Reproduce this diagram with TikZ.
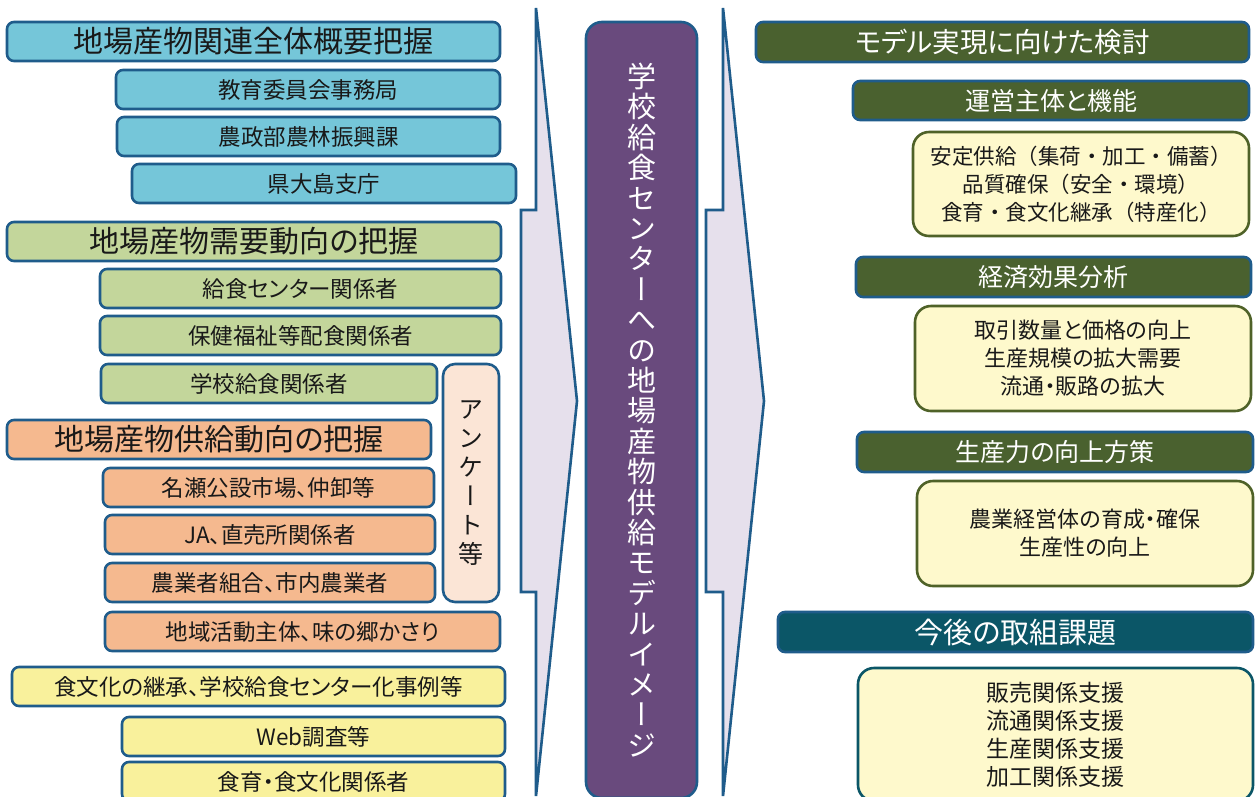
\documentclass[tikz,border=0pt]{standalone}
\usepackage{fontspec}
\setmainfont[RawFeature=+palt]{Noto Sans CJK JP}
\newfontfamily\vfont[RawFeature=+vert]{Noto Sans CJK JP}
\newfontfamily\fwfont{Noto Sans CJK JP}
\definecolor{bblue}{HTML}{1F5C8B}
\definecolor{fblue}{HTML}{75C6D9}
\definecolor{fgreen}{HTML}{C3D69B}
\definecolor{forange}{HTML}{F5B98F}
\definecolor{fyellow}{HTML}{F9F19C}
\definecolor{fpeach}{HTML}{FBE5D6}
\definecolor{flav}{HTML}{E6E0EC}
\definecolor{fpurp}{HTML}{694A7D}
\definecolor{dgreen}{HTML}{4A612F}
\definecolor{dgreenb}{HTML}{4F6228}
\definecolor{lyel}{HTML}{FEF9CC}
\definecolor{teal}{HTML}{0B5667}
\tikzset{
  box/.style={draw=bblue, line width=2.6pt, rounded corners=7pt, inner sep=0pt, text=black!90},
  hd/.style={box, font=\fontsize{30}{34}\selectfont},
  sub/.style={box, font=\fontsize{22.5}{26}\selectfont},
  rhd/.style={box, fill=dgreen, text=white, font=\fontsize{25}{30}\selectfont},
  ybox/.style={draw=dgreenb, line width=2.6pt, rounded corners=16pt, fill=lyel, inner sep=0pt, align=center, text=black!90, font=\fontsize{22}{28}\selectfont},
  arrowshape/.style={draw=bblue, line width=2.6pt, fill=flav, line join=miter},
}
\newcommand\bx[7]{\node[#6, minimum width={(#4-#2)*1pt}, minimum height={(#5-#3)*1pt}] (#1) at ({(#2+#4)/2},{(#3+#5)/2}) {#7};}
\begin{document}
\begin{tikzpicture}[x=1pt,y=-1pt]
\useasboundingbox (0,0) rectangle (1255,796);
\fill[white] (0,0) rectangle (1255,796);
% arrows
\draw[arrowshape] (536,8) -- (577,401) -- (536,796) -- (536,592) -- (521,592) -- (521,210) -- (536,210) -- cycle;
\draw[arrowshape] (723,8) -- (764,401) -- (723,796) -- (723,592) -- (706,592) -- (706,210) -- (723,210) -- cycle;
% left column
\bx{h1}{7}{22}{500}{61}{hd, fill=fblue}{地場産物関連全体概要把握}
\bx{a1}{116}{70}{500}{109}{sub, fill=fblue}{教育委員会事務局}
\bx{a2}{117}{117}{500}{156}{sub, fill=fblue}{農政部農林振興課}
\bx{a3}{132}{164}{516}{203}{sub, fill=fblue}{県大島支庁}
\bx{h2}{7}{222}{501}{261}{hd, fill=fgreen}{地場産物需要動向の把握}
\bx{b1}{100}{269}{501}{308}{sub, fill=fgreen}{給食センター関係者}
\bx{b2}{100}{316}{501}{355}{sub, fill=fgreen}{保健福祉等配食関係者}
\bx{b3}{101}{364}{437}{403}{sub, fill=fgreen}{学校給食関係者}
\bx{ank}{443}{364}{499}{602}{box, fill=fpeach, rounded corners=12pt, align=center, font={\vfont\fontsize{25}{29}\selectfont}}{ア\\ン\\ケ\\ー\\ト\\等}
\bx{h3}{7}{420}{431}{459}{hd, fill=forange}{地場産物供給動向の把握}
\bx{c1}{103}{468}{434}{507}{sub, fill=forange}{名瀬公設市場、仲卸等}
\bx{c2}{105}{515}{435}{554}{sub, fill=forange}{JA、直売所関係者}
\bx{c3}{105}{563}{435}{602}{sub, fill=forange}{農業者組合、市内農業者}
\bx{c4}{105}{612}{500}{651}{sub, fill=forange}{地域活動主体、味の郷かさり}
\bx{d0}{12}{667}{505}{706}{sub, fill=fyellow}{食文化の継承、学校給食センター化事例等}
\bx{d1}{122}{717}{505}{756}{sub, fill=fyellow}{Web調査等}
\bx{d2}{122}{762}{505}{801}{sub, fill=fyellow}{食育・食文化関係者}
% center
\bx{mid}{586}{22}{697}{798}{box, fill=fpurp, rounded corners=16pt, text=white, align=center, font={\vfont\fontsize{29}{30.4}\selectfont}}{学\\校\\給\\食\\セ\\ン\\タ\\ー\\へ\\の\\地\\場\\産\\物\\供\\給\\モ\\デ\\ル\\イ\\メ\\ー\\ジ}
% right column
\bx{r1}{756}{22}{1249}{62}{rhd, font=\fontsize{27.5}{30}\selectfont}{モデル実現に向けた検討}
\bx{r2}{853}{81}{1249}{120}{rhd}{運営主体と機能}
\bx{y1}{913}{132}{1249}{236}{ybox, font={\fwfont\fontsize{21.5}{28}\selectfont}}{安定供給（集荷・加工・備蓄）\\品質確保（安全・環境）\\食育・食文化継承（特産化）}
\bx{r3}{856}{257}{1251}{297}{rhd}{経済効果分析}
\bx{y2}{915}{306}{1251}{411}{ybox}{取引数量と価格の向上\\生産規模の拡大需要\\流通・販路の拡大}
\bx{r4}{857}{432}{1253}{472}{rhd}{生産力の向上方策}
\bx{y3}{917}{481}{1253}{586}{ybox}{農業経営体の育成・確保\\生産性の向上}
\bx{r5}{778}{612}{1253}{652}{rhd, fill=teal, font=\fontsize{29}{32}\selectfont}{今後の取組課題}
\bx{y4}{858}{668}{1253}{801}{ybox, draw=teal, font=\fontsize{23}{28}\selectfont}{販売関係支援\\流通関係支援\\生産関係支援\\加工関係支援}
\end{tikzpicture}
\end{document}
